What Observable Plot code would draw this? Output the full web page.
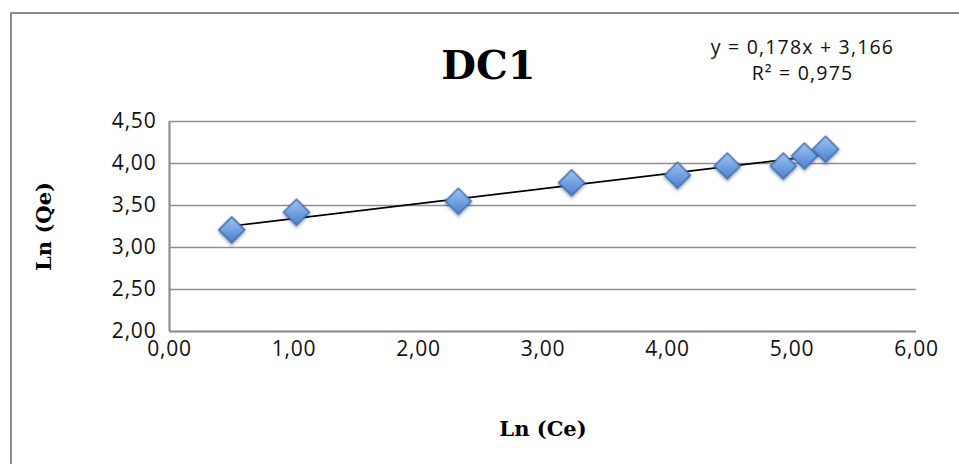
<!DOCTYPE html>
<html>
<head>
<meta charset="utf-8">
<script src="https://cdn.jsdelivr.net/npm/d3@7"></script>
<script src="https://cdn.jsdelivr.net/npm/@observablehq/plot@0.6"></script>
<style>
  html, body { margin: 0; padding: 0; background: #fff; }
  #wrap { position: relative; width: 959px; height: 464px; overflow: hidden; }
  #border { position: absolute; left: 10px; top: 12px; width: 1000px; height: 500px;
            border-left: 2.5px solid #8a8a8a; border-top: 2.5px solid #8a8a8a; box-sizing: border-box; }
  #chart { position: absolute; left: 0; top: 0; }
  .ticks text { letter-spacing: 0.8px; }
  .eq text { letter-spacing: 1.2px; }
</style>
</head>
<body>
<div id="wrap"><div id="border"></div><div id="chart"></div></div>
<script>
// Data
const lnCe = [0.50, 1.02, 2.32, 3.23, 4.08, 4.48, 4.93, 5.10, 5.27];
const lnQe = [3.21, 3.42, 3.55, 3.77, 3.86, 3.97, 3.97, 4.09, 4.17];
const slope = 0.178;
const intercept = 3.166;
const r2 = 0.975;
const xTicks = [0, 1, 2, 3, 4, 5, 6];
const yTicks = [2.0, 2.5, 3.0, 3.5, 4.0, 4.5];
const title = "DC1";
const xLabel = "Ln (Ce)";
const yLabel = "Ln (Qe)";

const fmt = (v, d) => v.toFixed(d).replace(".", ",");
const points = lnCe.map((x, i) => ({x, y: lnQe[i]}));
const xExt = d3.extent(lnCe);
const trend = xExt.map(x => ({x, y: slope * x + intercept}));
const eq1 = `y = ${fmt(slope, 3)}x + ${fmt(intercept, 3)}`;
const eq2 = `R² = ${fmt(r2, 3)}`;

const grey = "#8f8f8f";
const serif = "'DejaVu Serif', serif";
const sans = "'Open Sans', 'DejaVu Sans', sans-serif";

const plot = Plot.plot({
  width: 959,
  height: 464,
  marginLeft: 169,
  marginRight: 43,
  marginTop: 121,
  marginBottom: 133,
  style: { fontFamily: sans, fontSize: "21px", color: "#111", background: "transparent", overflow: "visible" },
  x: { domain: [0, 6] },
  y: { domain: [2, 4.5] },
  marks: [
    Plot.gridY(yTicks, { stroke: grey, strokeOpacity: 1, strokeWidth: 1.7 }),
    Plot.ruleX([0], { stroke: grey, strokeWidth: 2.2 }),
    Plot.ruleY([2], { stroke: grey, strokeWidth: 2.2 }),
    Plot.axisX(xTicks, { tickSize: 0, tickPadding: 10, tickFormat: d => fmt(d, 2), label: null, fontSize: 21, fill: "#111", className: "ticks" }),
    Plot.axisY(yTicks, { tickSize: 0, tickPadding: 13, tickFormat: d => fmt(d, 2), label: null, fontSize: 21, fill: "#111", className: "ticks" }),
    Plot.line(trend, { x: "x", y: "y", stroke: "#000", strokeWidth: 1.6 }),
    Plot.dot(points, { x: "x", y: "y", symbol: "diamond2", r: 11.7, fill: "url(#dgrad)", stroke: "#3d6cb0", strokeWidth: 1.5, fillOpacity: 1 }),
    Plot.text([title], { frameAnchor: "top-left", dx: 488 - 169, dy: 78 - 121, text: d => d, textAnchor: "middle", lineAnchor: "bottom", fontFamily: serif, fontWeight: "bold", fontSize: 40, fill: "#000" }),
    Plot.text([eq1], { frameAnchor: "top-left", dx: 802 - 169, dy: 53 - 121, text: d => d, textAnchor: "middle", lineAnchor: "bottom", fontSize: 19.5, fill: "#111", className: "eq" }),
    Plot.text([eq2], { frameAnchor: "top-left", dx: 802 - 169, dy: 79 - 121, text: d => d, textAnchor: "middle", lineAnchor: "bottom", fontSize: 19.5, fill: "#111", className: "eq" }),
    Plot.text([xLabel], { frameAnchor: "bottom", dy: 435 - 331, text: d => d, textAnchor: "middle", lineAnchor: "bottom", fontFamily: serif, fontWeight: "bold", fontSize: 21, fill: "#000" }),
    Plot.text([yLabel], { frameAnchor: "left", dx: 50 - 169, text: d => d, rotate: -90, textAnchor: "middle", lineAnchor: "bottom", fontFamily: serif, fontWeight: "bold", fontSize: 21, fill: "#000" })
  ]
});

const svg = d3.select(plot);
const defs = svg.insert("defs", ":first-child");
const g = defs.append("linearGradient").attr("id", "dgrad").attr("x1", 0).attr("y1", 0).attr("x2", 0).attr("y2", 1);
g.append("stop").attr("offset", "0%").attr("stop-color", "#a3c4f0");
g.append("stop").attr("offset", "55%").attr("stop-color", "#6f9fe0");
g.append("stop").attr("offset", "100%").attr("stop-color", "#4f80c8");
const f = defs.append("filter").attr("id", "dshadow").attr("x", "-50%").attr("y", "-50%").attr("width", "200%").attr("height", "200%");
f.append("feDropShadow").attr("dx", 0).attr("dy", 2).attr("stdDeviation", 1.5).attr("flood-color", "#000").attr("flood-opacity", 0.35);
svg.selectAll("[fill='url(#dgrad)']").attr("filter", "url(#dshadow)");

document.getElementById("chart").appendChild(plot);
</script>
</body>
</html>
